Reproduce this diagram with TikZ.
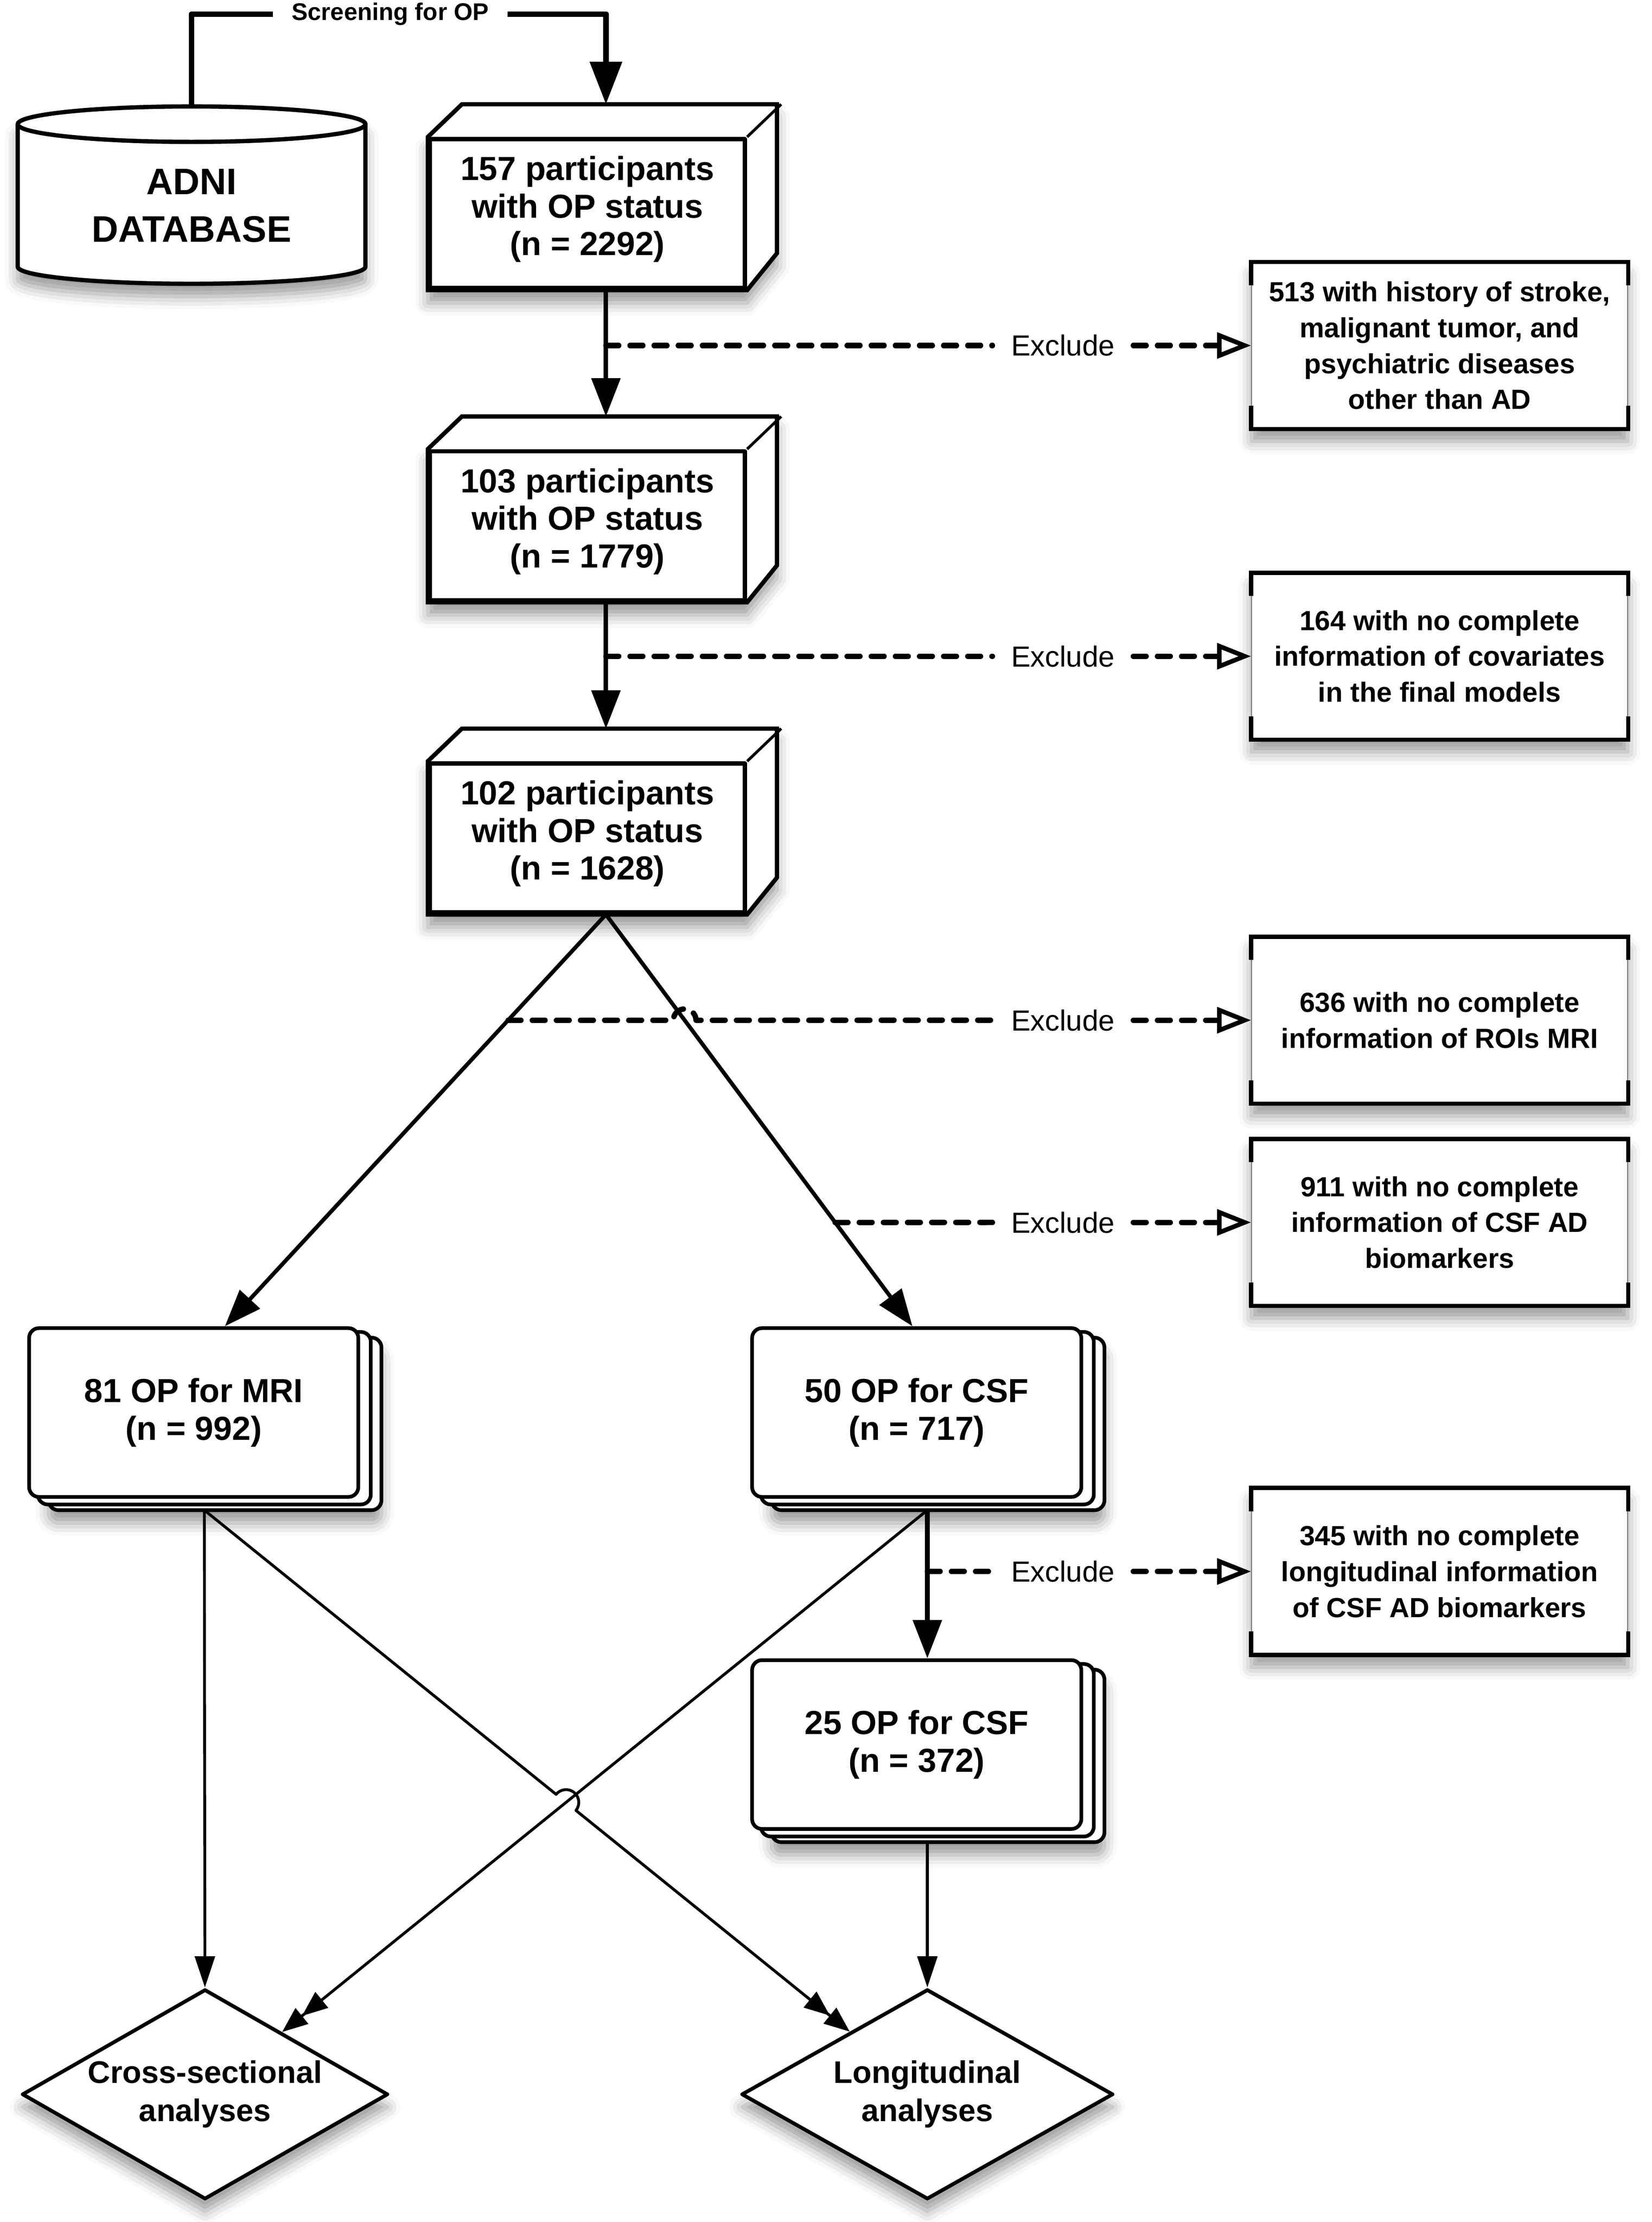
\documentclass[tikz,border=0pt]{standalone}
\usepackage{fontspec}
\setmainfont{Liberation Sans}
\usetikzlibrary{arrows.meta,shapes.geometric,calc,backgrounds,shadows.blur}
\newcommand\bxfont{\fontsize{23.5}{26.5}\selectfont\bfseries}
\newcommand\exfont{\fontsize{19.5}{25.3}\selectfont\bfseries}
\newcommand\lbfont{\fontsize{20.5}{24}\selectfont}
\newcommand\dbfont{\fontsize{26}{33.5}\selectfont\bfseries}
\newcommand\scfont{\fontsize{17}{20}\selectfont\bfseries}
\newcommand\dmfont{\fontsize{22}{27}\selectfont\bfseries}
\tikzset{
  softshadow/.style={blur shadow={shadow xshift=0pt, shadow yshift=-9pt, shadow blur radius=9pt, shadow opacity=40}},
  frontbox/.style={draw, line width=3pt, fill=white, minimum width=222pt, minimum height=105pt, inner sep=0pt},
  bxtext/.style={align=center, font=\bxfont, inner sep=0pt, yshift=3pt},
  exbox/.style={draw=black!55, line width=0.7pt, fill=white, minimum width=265pt, minimum height=117pt, inner sep=0pt, align=center, font=\exfont, softshadow},
  docbox/.style={draw, line width=2.6pt, fill=white, rounded corners=7pt, minimum width=232pt, minimum height=119pt, inner sep=0pt, align=center, font=\bxfont},
  docback/.style={draw, line width=2.6pt, fill=white, rounded corners=7pt},
  decision/.style={diamond, shape aspect=1.75, draw, line width=2.6pt, fill=white, minimum width=258pt, minimum height=148pt, inner sep=0pt, align=center, font=\dmfont, softshadow},
  dbtext/.style={align=center, font=\dbfont, inner sep=0pt},
  scrlabel/.style={font=\scfont, inner xsep=13pt, inner ysep=0pt},
  exlabel/.style={font=\lbfont, inner xsep=13pt, inner ysep=2pt},
  flow/.style={line width=3.2pt, -{Triangle[length=27pt,width=20pt]}},
  diagflow/.style={line width=2.8pt, -{Triangle[length=26pt,width=19pt]}},
  thinflow/.style={line width=2pt, -{Triangle[length=22pt,width=14pt]}},
  dblflow/.style={line width=2pt, -{Triangle[length=18pt,width=14pt,sep=0pt]Triangle[length=18pt,width=14pt]}},
  exdash/.style={line width=3.8pt, line cap=round, dash pattern=on 9pt off 8pt},
  exarrow/.style={exdash, -{Triangle[open,length=24pt,width=18pt,line width=3.2pt]}},
  bracket/.style={line width=3pt, line cap=rect, line join=miter},
}
\begin{document}
\begin{tikzpicture}[x=1pt,y=-1pt,line join=round]
\useasboundingbox (0,0) rectangle (1164,1566);

% ---------- nodes ----------
\node[frontbox, label={[bxtext]center:157 participants\\with OP status\\(n = 2292)}] (b1) at (414,150.5) {};
\node[frontbox, label={[bxtext]center:103 participants\\with OP status\\(n = 1779)}] (b2) at (414,370.5) {};
\node[frontbox, label={[bxtext]center:102 participants\\with OP status\\(n = 1628)}] (b3) at (414,590.5) {};
\node[dbtext] (db) at (135,145) {ADNI\\DATABASE};
\node[scrlabel] (scr) at (275,10) {Screening for OP};

\node[exbox] (ex1) at (1014.5,243.5) {513 with history of stroke,\\malignant tumor, and\\psychiatric diseases\\other than AD};
\node[exbox] (ex2) at (1014.5,462.5) {164 with no complete\\information of covariates\\in the final models};
\node[exbox] (ex3) at (1014.5,719) {636 with no complete\\information of ROIs MRI};
\node[exbox] (ex4) at (1014.5,861.5) {911 with no complete\\information of CSF AD\\biomarkers};
\node[exbox] (ex5) at (1014.5,1107.5) {345 with no complete\\longitudinal information\\of CSF AD biomarkers};

\node[docbox] (mri) at (136.5,995.5) {81 OP for MRI\\(n = 992)};
\node[docbox] (csf) at (646,995.5) {50 OP for CSF\\(n = 717)};
\node[docbox] (op25) at (646,1229.5) {25 OP for CSF\\(n = 372)};

\node[decision] (cross) at (144.5,1476) {Cross-sectional\\analyses};
\node[decision, minimum width=262pt] (long) at (653.5,1476) {Longitudinal\\analyses};

\node[exlabel] (x1) at (749,0 |- ex1.west) {Exclude};
\node[exlabel] (x2) at (749,0 |- ex2.west) {Exclude};
\node[exlabel] (x3) at (749,0 |- ex3.west) {Exclude};
\node[exlabel] (x4) at (749,0 |- ex4.west) {Exclude};
\node[exlabel] (x5) at (749,0 |- ex5.west) {Exclude};

% ---------- coordinates ----------
\coordinate (dbtop) at (135,75);
\coordinate (b1top) at ($(b1.north)+(13,-23)$);
\coordinate (b1bot) at ($(b1.south)+(13,0)$);
\coordinate (b2top) at ($(b2.north)+(13,-23)$);
\coordinate (b2bot) at ($(b2.south)+(13,0)$);
\coordinate (b3top) at ($(b3.north)+(13,-23)$);
\coordinate (b3bot) at ($(b3.south)+(13,0)$);
\coordinate (mritop) at ($(mri.north)+(22,0)$);
\coordinate (csftop) at ($(csf.north)+(-3,0)$);
\coordinate (mrib) at ($(mri.south)+(7.5,8)$);
\coordinate (csfb) at ($(csf.south)+(7.5,8)$);
\coordinate (op25top) at ($(op25.north)+(7.5,0)$);
\coordinate (op25b) at ($(op25.south)+(7.5,8)$);

% ---------- shapes behind the nodes ----------
\begin{scope}[on background layer]
  % database cylinder
  \filldraw[fill=white, line width=3pt, softshadow]
    (12.5,87.5) -- (12.5,188)
    arc[start angle=180, end angle=360, x radius=122.5pt, y radius=12pt]
    -- (257.5,87.5)
    arc[start angle=0, end angle=180, x radius=122.5pt, y radius=12.5pt] -- cycle;
  \draw[line width=3pt] (12.5,87.5) arc[start angle=180, end angle=360, x radius=122.5pt, y radius=12.5pt];
  % 3D boxes
  \foreach \bx in {b1,b2,b3} {
    \filldraw[fill=white, line width=3pt, softshadow]
      (\bx.south west) -- (\bx.north west) -- ++(24,-23) -- ++(222,0) -- ++(0,105) -- (\bx.south east) -- cycle;
    \draw[line width=2pt] (\bx.north east) -- ++(24,-23);
  }
  % stacked documents
  \foreach \dc in {mri,csf,op25} {
    \filldraw[docback, softshadow] ($(\dc.south west)+(15,8)$) rectangle ($(\dc.north east)+(15,8)$);
    \filldraw[docback] ($(\dc.south west)+(7.5,4)$) rectangle ($(\dc.north east)+(7.5,4)$);
  }
\end{scope}

% exclusion box brackets
\foreach \ex in {ex1,ex2,ex3,ex4,ex5} {
  \draw[bracket] ($(\ex.north west)+(0,15)$) -- (\ex.north west) -- (\ex.north east) -- ++(0,15);
  \draw[bracket] ($(\ex.south west)+(0,-15)$) -- (\ex.south west) -- (\ex.south east) -- ++(0,-15);
}

% ---------- connectors ----------
\draw[line width=4pt] (dbtop) |- (scr.west);
\draw[line width=4pt, -{Triangle[length=30pt,width=22pt]}] (scr.east) -| (b1top);

\draw[flow] (b1bot) -- (b2top);
\draw[flow] (b2bot) -- (b3top);
\draw[diagflow] (b3bot) -- (mritop);
\draw[diagflow] (b3bot) -- (csftop);
\draw[flow] (csfb) -- (op25top);

% exclusions
\draw[exdash] (b1bot |- x1.west) -- (x1.west);
\draw[exarrow] (x1.east) -- (ex1.west);
\draw[exdash] (b2bot |- x2.west) -- (x2.west);
\draw[exarrow] (x2.east) -- (ex2.west);
\coordinate (L3) at (intersection of b3bot--mritop and x3.west--ex3.west);
\coordinate (R3) at (intersection of b3bot--csftop and x3.west--ex3.west);
\draw[exdash] (L3) -- ($(R3)+(-8,0)$) arc[start angle=180, end angle=0, radius=8pt] -- (x3.west);
\draw[exarrow] (x3.east) -- (ex3.west);
\coordinate (L4) at (intersection of b3bot--csftop and x4.west--ex4.west);
\draw[exdash] (L4) -- (x4.west);
\draw[exarrow] (x4.east) -- (ex4.west);
\draw[exdash] (csfb |- x5.west) -- (x5.west);
\draw[exarrow] (x5.east) -- (ex5.west);

% analyses
\draw[thinflow] (mrib) -- (cross);
\draw[thinflow] (op25b) -- (long);
\draw[dblflow] (csfb) -- (cross);
\coordinate (X) at (intersection of mrib--long.center and csfb--cross.center);
\draw[dblflow] (mrib) -- ($(X)!9pt!(mrib)$) arc[start angle=141, end angle=-39, radius=9pt] -- (long);
\end{tikzpicture}
\end{document}
